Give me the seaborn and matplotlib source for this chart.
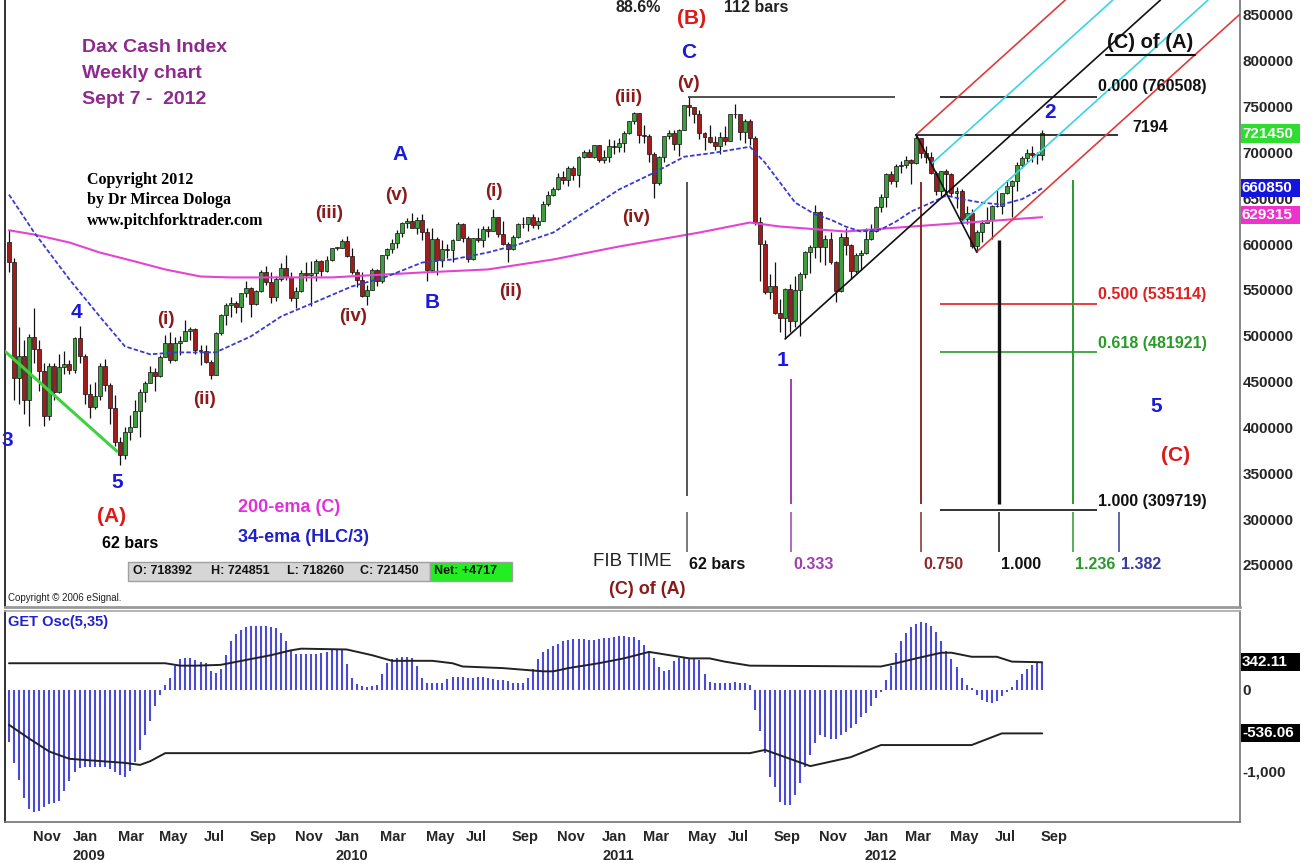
import numpy as np
import pandas as pd
import matplotlib
matplotlib.use("Agg")
import matplotlib.pyplot as plt
from matplotlib.patches import Rectangle
import seaborn as sns

# ---------------- data (DAX weekly, index points) ----------------
first_friday = "2008-10-03"
n_weeks = 206

open_2008 = [6020, 5800, 4544, 4781, 4295, 4988, 4850, 4611, 4127, 4669, 4381, 4664, 4696]
high_2008 = [6150, 5850, 5100, 4950, 5020, 5300, 4950, 4700, 4700, 4700, 4800, 4830, 4730]
low_2008 = [5700, 4300, 4260, 4150, 4014, 4700, 4400, 4015, 4080, 4300, 4380, 4580, 4580]
close_2008 = [5800, 4544, 4781, 4295, 4988, 4850, 4611, 4127, 4669, 4381, 4664, 4696, 4629]

open_2009 = [4629, 4973, 4783, 4365, 4225, 4338, 4666, 4460, 4215, 3843, 3695, 3954, 4006,
             4181, 4385, 4486, 4603, 4562, 4770, 4925, 4738, 4918, 4941, 5054, 5069, 4839,
             4838, 4718, 4576, 5028, 5229, 5332, 5359, 5309, 5462, 5517, 5349, 5488, 5700,
             5582, 5417, 5618, 5743, 5640, 5415, 5488, 5687, 5663, 5686, 5817, 5709, 5831]
high_2009 = [4990, 5111, 4800, 4470, 4500, 4700, 4750, 4480, 4350, 3900, 4000, 4130, 4300,
             4420, 4510, 4670, 4650, 4790, 5010, 5040, 4990, 5000, 5170, 5100, 5080, 4900,
             4900, 4730, 5040, 5240, 5360, 5420, 5380, 5470, 5600, 5530, 5500, 5720, 5760,
             5700, 5650, 5790, 5880, 5700, 5530, 5720, 5800, 5820, 5840, 5830, 5870, 5960]
low_2009 = [4590, 4700, 4250, 4100, 4200, 4300, 4400, 4040, 3800, 3588, 3650, 3860, 4000,
            3900, 4280, 4480, 4400, 4550, 4770, 4700, 4720, 4790, 4940, 4950, 4800, 4680,
            4700, 4530, 4570, 5010, 5120, 5200, 5250, 5150, 5420, 5200, 5340, 5480, 5550,
            5360, 5380, 5600, 5610, 5380, 5300, 5480, 5600, 5320, 5600, 5650, 5700, 5820]
close_2009 = [4973, 4783, 4365, 4225, 4338, 4666, 4460, 4215, 3843, 3695, 3954, 4006, 4181,
              4385, 4486, 4603, 4562, 4770, 4925, 4738, 4918, 4941, 5054, 5069, 4839, 4838,
              4718, 4576, 5028, 5229, 5332, 5359, 5309, 5462, 5517, 5349, 5488, 5700, 5582,
              5417, 5618, 5743, 5640, 5415, 5488, 5687, 5663, 5686, 5817, 5709, 5831, 5957]

open_2010 = [5957, 5957, 6037, 5875, 5696, 5608, 5434, 5500, 5722, 5598, 5877, 5945, 6017,
             6120, 6235, 6250, 6180, 6259, 6135, 5715, 6056, 5830, 5946, 5938, 6049, 6216,
             6071, 5834, 6065, 6040, 6160, 6148, 6291, 6110, 6005, 5951, 6080, 6214, 6220,
             6299, 6211, 6255, 6433, 6535, 6601, 6734, 6700, 6834, 6750, 6947, 7007, 6954, 7077]
high_2010 = [5970, 6050, 6090, 5960, 5730, 5690, 5550, 5740, 5730, 5880, 5960, 6050, 6150,
             6240, 6280, 6341, 6300, 6330, 6170, 6180, 6080, 6040, 6000, 6060, 6240, 6230,
             6090, 6070, 6170, 6200, 6200, 6386, 6300, 6250, 6020, 6100, 6230, 6290, 6300,
             6330, 6300, 6470, 6580, 6620, 6780, 6800, 6850, 6850, 6960, 7030, 7040, 7080, 7080]
low_2010 = [5940, 5960, 5860, 5670, 5530, 5420, 5340, 5500, 5540, 5580, 5840, 5900, 5960,
            6080, 6170, 6170, 6110, 6040, 5600, 5710, 5660, 5750, 5850, 5800, 6040, 6020,
            5800, 5830, 6020, 5970, 6080, 6140, 6080, 5990, 5807, 5930, 6070, 6180, 6140,
            6170, 6160, 6250, 6420, 6520, 6590, 6650, 6630, 6700, 6620, 6940, 6950, 6940, 6900]
close_2010 = [5957, 6037, 5875, 5696, 5608, 5434, 5500, 5722, 5598, 5877, 5945, 6017, 6120,
              6235, 6250, 6180, 6259, 6135, 5715, 6056, 5830, 5946, 5938, 6049, 6216, 6071,
              5834, 6065, 6040, 6160, 6148, 6291, 6110, 6005, 5951, 6080, 6214, 6220, 6299,
              6211, 6255, 6433, 6535, 6601, 6734, 6700, 6834, 6750, 6947, 7007, 6954, 7077, 6914]

open_2011 = [6914, 6947, 7075, 7062, 7102, 7217, 7340, 7426, 7185, 7178, 6982, 6664, 6946,
             7179, 7217, 7094, 7249, 7514, 7492, 7418, 7207, 7163, 7109, 7070, 7164, 7121,
             7419, 7415, 7220, 7344, 7158, 6236, 5997, 5480, 5537, 5246, 5189, 5508, 5164,
             5502, 5675, 5910, 5971, 6346, 5966, 6057, 5800, 5493, 6080, 5987, 5701, 5878]
high_2011 = [7030, 7150, 7140, 7160, 7230, 7340, 7440, 7430, 7300, 7200, 7000, 6960, 7180,
             7250, 7240, 7260, 7520, 7600, 7500, 7460, 7220, 7300, 7180, 7220, 7290, 7420,
             7530, 7420, 7370, 7370, 7180, 6300, 6040, 5670, 5800, 5400, 5520, 5560, 5650,
             5700, 5920, 5990, 6430, 6360, 6100, 6130, 5810, 6120, 6180, 6000, 5900, 5930]
low_2011 = [6880, 6900, 6980, 7000, 7000, 7200, 7310, 7100, 7100, 6900, 6500, 6640, 6900,
            7150, 7030, 6960, 7240, 7400, 7320, 7150, 7030, 7100, 7030, 6980, 7080, 7120,
            7380, 7140, 7100, 7080, 6210, 5600, 5460, 5400, 5240, 5040, 4965, 5040, 5100,
            5000, 5630, 5680, 5850, 5800, 5770, 5780, 5370, 5480, 5880, 5620, 5680, 5720]
close_2011 = [6947, 7075, 7062, 7102, 7217, 7340, 7426, 7185, 7178, 6982, 6664, 6946, 7179,
              7217, 7094, 7249, 7514, 7492, 7418, 7207, 7163, 7109, 7070, 7164, 7121, 7419,
              7415, 7220, 7344, 7158, 6236, 5997, 5480, 5537, 5246, 5189, 5508, 5164, 5502,
              5675, 5910, 5971, 6346, 5966, 6057, 5800, 5493, 6080, 5987, 5701, 5878, 5898]

open_2012 = [5898, 6057, 6143, 6404, 6512, 6766, 6693, 6849, 6864, 6922, 6880, 7157, 6996,
             6947, 6775, 6583, 6801, 6762, 6561, 6580, 6271, 6339, 5978, 6131, 6230, 6263,
             6416, 6410, 6557, 6630, 6689, 6866, 6944, 6990, 6971, 6970]
high_2012 = [6180, 6220, 6420, 6550, 6770, 6800, 6870, 6910, 6960, 6930, 7194, 7160, 7070,
             7000, 6800, 6800, 6820, 6780, 6620, 6600, 6420, 6380, 6150, 6260, 6400, 6430,
             6590, 6560, 6700, 6700, 6900, 6960, 7040, 7070, 7000, 7248.51]
low_2012 = [5890, 6040, 6130, 6350, 6400, 6650, 6620, 6780, 6830, 6650, 6870, 6940, 6880,
            6760, 6530, 6500, 6570, 6520, 6390, 6250, 6220, 5960, 5914, 6020, 6230, 6060,
            6400, 6330, 6550, 6300, 6580, 6830, 6900, 6900, 6870, 6920]
close_2012 = [6057, 6143, 6404, 6512, 6766, 6693, 6849, 6864, 6922, 6880, 7157, 6996, 6947,
              6775, 6583, 6801, 6762, 6561, 6580, 6271, 6339, 5978, 6131, 6230, 6263, 6416,
              6410, 6557, 6630, 6689, 6866, 6944, 6990, 6971, 6970, 7214.50]

# moving averages (week index, value)
ema34_week = [0, 5, 12, 18, 23, 28, 33, 41, 48, 54, 62, 68, 75, 82, 88, 95, 101, 108, 115, 121,
              128, 134, 140, 147, 150, 153, 156, 160, 163, 166, 169, 173, 176, 179, 183, 186,
              189, 193, 197, 201, 205]
ema34_value = [6540, 6126, 5614, 5210, 4884, 4797, 4818, 4818, 4993, 5210, 5396, 5537, 5646,
               5799, 5832, 5908, 5995, 6126, 6376, 6594, 6779, 6953, 6997, 7062, 6888, 6670,
               6452, 6322, 6267, 6191, 6137, 6159, 6246, 6355, 6452, 6530, 6490, 6452, 6431,
               6490, 6608.50]
ema200_week = [0, 5, 12, 18, 25, 31, 38, 44, 64, 82, 95, 108, 121, 137, 147, 153, 166, 179, 193, 205]
ema200_value = [6150, 6104, 6017, 5908, 5810, 5723, 5646, 5636, 5636, 5690, 5723, 5832, 5973,
                6126, 6235, 6191, 6137, 6191, 6246, 6293.15]

# GET oscillator histogram (weekly)
osc_2008 = [-640, -900, -1110, -1330, -1470, -1510, -1500, -1450, -1410, -1400, -1370, -1250, -1120]
osc_2009 = [-1010, -960, -950, -950, -950, -950, -955, -970, -1010, -1050, -1070, -1000, -890,
            -740, -560, -380, -200, -60, 60, 150, 300, 380, 390, 390, 370, 350, 330, 230, 210,
            260, 430, 600, 690, 740, 780, 790, 795, 795, 790, 780, 760, 700, 600, 480, 450,
            450, 450, 450, 450, 460, 470, 490]
osc_2010 = [510, 500, 320, 150, 70, 50, 40, 50, 60, 200, 330, 380, 400, 410, 410, 400, 290,
            150, 80, 80, 80, 90, 140, 160, 160, 160, 150, 150, 160, 160, 150, 130, 120, 120,
            110, 90, 80, 80, 150, 260, 380, 470, 510, 540, 570, 600, 620, 630, 630, 630, 620,
            620, 630]
osc_2011 = [640, 640, 660, 670, 670, 660, 650, 620, 560, 480, 400, 280, 240, 250, 360, 390,
            390, 390, 390, 370, 200, 100, 90, 80, 80, 90, 100, 90, 80, 60, -250, -510, -780,
            -1070, -1200, -1380, -1420, -1420, -1300, -1150, -950, -800, -650, -560, -580,
            -600, -600, -560, -520, -470, -420, -330]
osc_2012 = [-280, -200, -100, -20, 120, 300, 460, 600, 700, 780, 820, 840, 830, 790, 720, 600,
            480, 380, 280, 150, 60, 20, -60, -120, -150, -160, -130, -80, -30, 40, 120, 200,
            260, 310, 335, 342]
band_up_week = [0, 31, 34, 37, 42, 47, 52, 56, 58, 67, 72, 76, 84, 88, 90, 98, 106, 108, 111,
                117, 122, 127, 131, 135, 139, 142, 147, 173, 176, 180, 185, 187, 191, 196, 199, 205]
band_up_value = [330, 330, 300, 300, 310, 370, 430, 490, 510, 500, 430, 360, 360, 330, 290, 270,
                 230, 230, 270, 330, 390, 470, 430, 390, 390, 350, 300, 290, 330, 390, 460, 460,
                 410, 410, 350, 342.11]
band_lo_week = [0, 4, 8, 12, 23, 26, 28, 31, 147, 150, 159, 167, 173, 191, 197, 205]
band_lo_value = [-430, -600, -760, -850, -900, -925, -880, -780, -780, -740, -940, -830, -680,
                 -680, -536, -536.06]

# annotation tools
fib_high, fib_low = 7605.084, 3097.194
fib_ratios = [0.0, 0.5, 0.618, 1.0]
fib_colors = ["#111111", "#e02020", "#2a9a2a", "#111111"]
time_start, time_cycle = 134.5, 62
time_ratios = [0.0, 0.333, 0.75, 1.0, 1.236, 1.382]
time_labels = ["62 bars", "0.333", "0.750", "1.000", "1.236", "1.382"]
time_colors = ["#555555", "#a040b0", "#8b2a2a", "#111111", "#2a9a2a", "#3a3a9a"]
time_tops = [6681, 4524, 6681, 6049, 6703, None]
pf_week = [154, 180, 192]
pf_price = [4965, 7194, 5914]

# ---------------- build ----------------
opens = np.array(open_2008 + open_2009 + open_2010 + open_2011 + open_2012, float)
highs = np.array(high_2008 + high_2009 + high_2010 + high_2011 + high_2012, float)
lows = np.array(low_2008 + low_2009 + low_2010 + low_2011 + low_2012, float)
closes = np.array(close_2008 + close_2009 + close_2010 + close_2011 + close_2012, float)
osc = np.array(osc_2008 + osc_2009 + osc_2010 + osc_2011 + osc_2012, float)
weeks = np.arange(n_weeks)
dates = pd.date_range(first_friday, periods=n_weeks, freq="7D")

sns.set_theme(style="white")
plt.rcParams["font.family"] = ["Liberation Sans", "DejaVu Sans"]

W, H = 1312, 863
fig = plt.figure(figsize=(W / 100, H / 100), dpi=100, facecolor="white")


def fx(px):
    return px / W


def fy(py):
    return 1 - py / H


ax = fig.add_axes([fx(5), fy(607), fx(1240) - fx(5), fy(0) - fy(607)])
ax2 = fig.add_axes([fx(5), fy(822), fx(1240) - fx(5), fy(611) - fy(822)])
XL = (-0.79, 244.25)
for a in (ax, ax2):
    a.set_xlim(*XL)
    a.set_facecolor("white")
ax.set_ylim(2040, 8663)
ax2.set_ylim(-1630, 975)

# candles
up = closes >= opens
body_lo = np.minimum(opens, closes)
body_h = np.maximum(np.abs(closes - opens), 8)
ax.vlines(weeks, lows, highs, color="#111111", lw=0.9, zorder=3)
ax.bar(weeks, body_h, bottom=body_lo, width=0.78,
       color=np.where(up, "#3c9e3c", "#a31c1c"), edgecolor="#111111", lw=0.5, zorder=4)

# moving averages
sns.lineplot(x=ema200_week, y=ema200_value, ax=ax, color="#e443d4", lw=1.5, zorder=5)
sns.lineplot(x=ema34_week, y=ema34_value, ax=ax, color="#3a3ad0", lw=1.3, zorder=5)
ax.lines[-1].set_dashes([2.5, 1.2])

# green trendline 3-5
ax.plot([-0.8, 21.4], [4830, 3740], color="#3fd23f", lw=2.2, zorder=5)

# (B) high line and 7194 line
ax.hlines(fib_high, 134.7, 175.8, color="#333333", lw=1.2, zorder=5)
ax.hlines(pf_price[1], 179.8, 220.0, color="#111111", lw=1.2, zorder=5)
# Fibonacci retracement
fib_levels = [fib_high - r * (fib_high - fib_low) for r in fib_ratios]
for lv, c in zip(fib_levels, fib_colors):
    ax.hlines(lv, 184.7, 215.9, color=c, lw=1.2, zorder=5)

# Fibonacci time lines
for r, c, top in zip(time_ratios, time_colors, time_tops):
    xt = time_start + r * time_cycle
    if top is not None:
        bottom = 3250 if r == 0 else 3160
        ax.vlines(xt, bottom, top, color=c, lw=2.4 if r == 1.0 else 1.4, zorder=5)
    ax.vlines(xt, 2640, 3080, color=c, lw=1.1, zorder=5)

# Andrews pitchfork
p0 = np.array([pf_week[0], pf_price[0]], float)
p1 = np.array([pf_week[1], pf_price[1]], float)
p2 = np.array([pf_week[2], pf_price[2]], float)
mid = (p1 + p2) / 2
slope = (mid[1] - p0[1]) / (mid[0] - p0[0])
ytop = 8663


def ray(start, color, lw=1.2):
    xe = min(start[0] + (ytop - start[1]) / slope, XL[1])
    ax.plot([start[0], xe], [start[1], start[1] + (xe - start[0]) * slope],
            color=color, lw=lw, zorder=6, clip_on=True)


ray(p0, "#111111")
ray(p1, "#e03a3a")
ray(p2, "#e03a3a")
ray((p1 + mid) / 2, "#38d4e4")
ray((mid + p2) / 2, "#38d4e4")
ax.plot([p1[0], p2[0]], [p1[1], p2[1]], color="#111111", lw=1.2, zorder=6)

# price axis
ax.yaxis.tick_right()
ax.set_yticks(np.arange(2500, 8501, 500))
ax.set_yticklabels([f"{int(v * 100)}" for v in np.arange(2500, 8501, 500)])
ax.tick_params(axis="y", length=0, pad=2, labelsize=11)
for t in ax.get_yticklabels():
    t.set_fontweight("bold")
ax.set_xticks([])
ax.set_xlabel("")
ax.set_ylabel("")
ax.spines["top"].set_visible(False)
ax.spines["left"].set_color("#222222")
ax.spines["left"].set_linewidth(1.3)
ax.spines["right"].set_color("#777777")
ax.spines["bottom"].set_color("#999999")
ax.spines["bottom"].set_linewidth(2)

# oscillator panel
ax2.vlines(weeks, 0, osc, color="#4a4ad8", lw=1.5, zorder=3)
sns.lineplot(x=band_up_week, y=band_up_value, ax=ax2, color="#222222", lw=1.4, zorder=4)
sns.lineplot(x=band_lo_week, y=band_lo_value, ax=ax2, color="#222222", lw=1.4, zorder=4)
ax2.set_xlabel("")
ax2.set_ylabel("")
ax2.yaxis.tick_right()
ax2.set_yticks([0, -1000])
ax2.set_yticklabels(["0", "-1,000"])
ax2.tick_params(axis="y", length=0, pad=2, labelsize=11)
for t in ax2.get_yticklabels():
    t.set_fontweight("bold")
for s, c in [("left", "#222222"), ("right", "#777777"), ("bottom", "#777777"), ("top", "#aaaaaa")]:
    ax2.spines[s].set_color(c)
ax2.spines["left"].set_linewidth(1.3)

label_months = [(2008, 11), (2009, 1), (2009, 3), (2009, 5), (2009, 7), (2009, 9), (2009, 11),
                (2010, 1), (2010, 3), (2010, 5), (2010, 7), (2010, 9), (2010, 11),
                (2011, 1), (2011, 3), (2011, 5), (2011, 7), (2011, 9), (2011, 11),
                (2012, 1), (2012, 3), (2012, 5), (2012, 7), (2012, 9)]
tick_pos, tick_lab = [], []
for yv, mv in label_months:
    idx = int(np.argmax((dates.year == yv) & (dates.month == mv)))
    tick_pos.append(idx - 0.3)
    name = pd.Timestamp(yv, mv, 1).strftime("%b")
    tick_lab.append(name + (f"\n{yv}" if mv == 1 else ""))
ax2.set_xticks(tick_pos)
ax2.set_xticklabels(tick_lab)
ax2.tick_params(axis="x", length=0, pad=6, labelsize=10.5)
for t in ax2.get_xticklabels():
    t.set_ha("left")
    t.set_fontweight("bold")
    t.set_linespacing(1.45)
    t.set_verticalalignment("top")

# ---------------- texts ----------------
BLUE, RED, BROWN, PURPLE = "#1a1ad8", "#e01818", "#8b1a1a", "#8e2a8e"


def T(x, y, s, color="black", size=14, weight="bold", ha="center", family=None, **kw):
    kws = dict(color=color, fontsize=size, fontweight=weight, ha=ha, va="center", **kw)
    if family:
        kws["family"] = family
    return fig.text(fx(x), fy(y), s, **kws)


for i, s in enumerate(["Dax Cash Index", "Weekly chart", "Sept 7 -  2012"]):
    T(82, [47, 73, 100][i], s, PURPLE, 14, ha="left")
for i, s in enumerate(["Copyright 2012", "by Dr Mircea Dologa", "www.pitchforktrader.com"]):
    T(87, [180, 200, 221][i], s, "black", 11.5, ha="left", family=["Liberation Serif", "DejaVu Serif"])

waves = [("3", 7, 441, BLUE, 15), ("4", 76, 313, BLUE, 15), ("5", 117, 483, BLUE, 15),
         ("(A)", 112, 516, RED, 15), ("(i)", 166, 319, BROWN, 13.5), ("(ii)", 204, 399, BROWN, 13.5),
         ("(iii)", 329, 214, BROWN, 13.5), ("(iv)", 353, 316, BROWN, 13.5), ("(v)", 396, 195, BROWN, 13.5),
         ("A", 400, 155, BLUE, 15), ("B", 432, 302, BLUE, 15), ("(i)", 494, 191, BROWN, 13.5),
         ("(ii)", 511, 291, BROWN, 13.5), ("(iii)", 628, 98, BROWN, 13.5), ("(iv)", 636, 217, BROWN, 13.5),
         ("(v)", 688, 83, BROWN, 13.5), ("C", 689, 52, BLUE, 15), ("(B)", 692, 18, RED, 15),
         ("1", 783, 361, BLUE, 15), ("2", 1050, 113, BLUE, 15), ("5", 1156, 406, BLUE, 15),
         ("(C)", 1176, 455, RED, 15)]
for s, x, y, c, sz in waves:
    T(x, y, s, c, sz)

T(130, 544, "62 bars", "black", 11.5)
T(238, 507, "200-ema (C)", "#e030dc", 13, ha="left")
T(238, 537, "34-ema (HLC/3)", "#2020c8", 13, ha="left")
T(632, 561, "FIB TIME", "#222222", 13.5, weight="normal")
T(647, 589, "(C) of (A)", BROWN, 13)
T(638, 8, "88.6%", "#222222", 11.5)
T(756, 8, "112 bars", "#222222", 11.5)
T(1150, 42, "(C) of (A)", "#111111", 14.5)
fig.add_artist(plt.Line2D([fx(1106), fx(1195)], [fy(55), fy(55)], color="#111111", lw=1.5))

# fib level labels
for r, lv, c, y in zip(fib_ratios, fib_levels, fib_colors, [86, 294, 343, 501]):
    T(1098, y, f"{r:.3f} ({int(round(lv * 100))})", c, 11.5, ha="left")
T(1132, 127, f"{pf_price[1]}", "#111111", 11.5, ha="left")
# fib time labels
for r, lab, c in zip(time_ratios, time_labels, time_colors):
    xt = time_start + r * time_cycle
    xp = 9 + 5.04 * xt
    T(xp + 2, 564, lab, c if r != 0 else "#111111", 11.5, ha="left")

# OHLC status box
fig.add_artist(Rectangle((fx(128), fy(581)), fx(430) - fx(128), fy(562) - fy(581),
                         transform=fig.transFigure, facecolor="#d6d6d6", edgecolor="#a0a0a0", lw=1))
fig.add_artist(Rectangle((fx(430), fy(581)), fx(512) - fx(430), fy(562) - fy(581),
                         transform=fig.transFigure, facecolor="#22ee22", edgecolor="#a0a0a0", lw=1))
for x, s in [(133, "O: 718392"), (211, "H: 724851"), (287, "L: 718260"), (360, "C: 721450"),
             (434, "Net: +4717")]:
    T(x, 571, s, "#111111", 9, ha="left")
T(8, 598, "Copyright \u00a9 2006 eSignal.", "#222222", 7, weight="normal", ha="left")
T(8, 622, "GET Osc(5,35)", "#2020d0", 10.5, ha="left")

# last-value boxes on the right axis
boxes = [(124, 143, f"{closes[-1] * 100:.0f}", "#2fdc2f"),
         (179, 197, f"{ema34_value[-1] * 100:.0f}", "#1414e0"),
         (206, 224, f"{ema200_value[-1] * 100:.0f}", "#ee33cc"),
         (653, 671, f"{band_up_value[-1]:.2f}", "#000000"),
         (724, 742, f"{band_lo_value[-1]:.2f}", "#000000")]
for y0, y1, s, c in boxes:
    fig.add_artist(Rectangle((fx(1241), fy(y1)), fx(1300) - fx(1241), fy(y0) - fy(y1),
                             transform=fig.transFigure, facecolor=c, edgecolor="none", zorder=10))
    fig.text(fx(1242), fy((y0 + y1) / 2), s, color="white", fontsize=11, fontweight="bold",
             ha="left", va="center", zorder=11)

fig.savefig("out.png", dpi=100, facecolor="white")
